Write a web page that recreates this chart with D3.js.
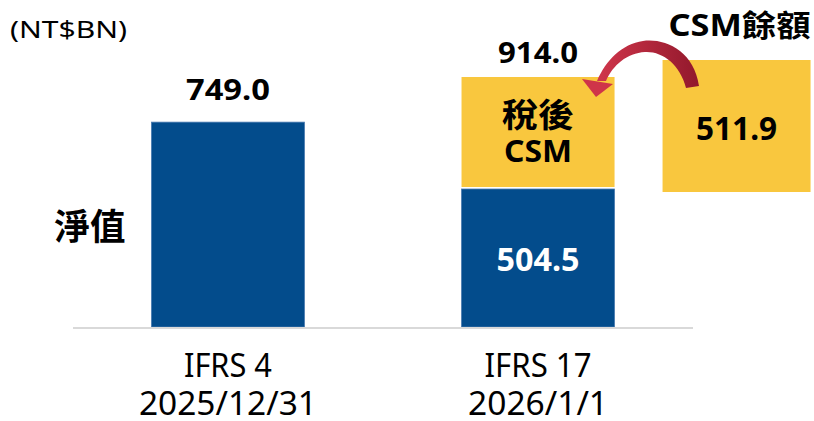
<!DOCTYPE html>
<html>
<head>
<meta charset="utf-8">
<script src="https://cdn.jsdelivr.net/npm/d3@7"></script>
<style>
  body { margin: 0; background: #fff; }
  text { font-family: "Noto Sans", "Noto Sans CJK TC", sans-serif; }
</style>
</head>
<body>
<svg id="chart" width="814" height="421"></svg>
<script>
// categories and values (NT$BN)
const categories = ["IFRS 4", "IFRS 17"];
const dates = ["2025/12/31", "2026/1/1"];
const netValue = [749.0, 504.5];
const csmAfterTax = [0, 409.5];
const totals = [749.0, 914.0];
const csmBalance = 511.9;

const BLUE = "#034c8c";
const YELLOW = "#f9c73e";

let svg = d3.select("#chart");

let x = d3.scaleBand().domain(categories).range([73, 693])
    .paddingInner(0.5065).paddingOuter(0.253);
let y = d3.scaleLinear().domain([0, 914]).range([327, 77]);

let bw = x.bandwidth();
let cx = (c) => x(c) + bw / 2;

// helper for text with fitted width
let label = (txt, px, py, size, len, opts = {}) => {
    let t = svg.append("text")
        .attr("x", px).attr("y", py)
        .attr("font-size", size)
        .attr("font-weight", opts.bold ? 700 : 400)
        .attr("fill", opts.fill || "#000")
        .attr("text-anchor", opts.anchor || "middle")
        .text(txt);
    if (len) t.attr("textLength", len).attr("lengthAdjust", "spacingAndGlyphs");
    if (opts.cjk) t.style("font-family", "'Noto Sans CJK TC', sans-serif");
    return t;
};

// blue (net value) bars
svg.selectAll("rect.net")
    .data(categories)
    .enter()
    .append("rect")
    .attr("class", "net")
    .attr("x", (d) => x(d))
    .attr("y", (d, i) => y(netValue[i]))
    .attr("width", bw)
    .attr("height", (d, i) => y(0) - y(netValue[i]))
    .attr("fill", BLUE)
    .attr("stroke", "#4a7bb0")
    .attr("stroke-width", 0.8);

// yellow CSM stacked segment
svg.selectAll("rect.csm")
    .data(categories.filter((d, i) => csmAfterTax[i] > 0))
    .enter()
    .append("rect")
    .attr("class", "csm")
    .attr("x", (d) => x(d))
    .attr("y", (d) => y(totals[categories.indexOf(d)]))
    .attr("width", bw)
    .attr("height", (d) => {
        let i = categories.indexOf(d);
        return y(netValue[i]) - y(totals[i]) - 2;
    })
    .attr("fill", YELLOW);

// baseline
svg.append("line")
    .attr("x1", 73).attr("x2", 693)
    .attr("y1", y(0) + 1).attr("y2", y(0) + 1)
    .attr("stroke", "#d9d9d9").attr("stroke-width", 2);

// side CSM balance box
let boxX = x("IFRS 17") + bw + 48;
svg.append("rect")
    .attr("x", boxX).attr("y", 60)
    .attr("width", 148).attr("height", 132)
    .attr("fill", YELLOW);

// curved arrow
let defs = svg.append("defs");
let grad = defs.append("linearGradient").attr("id", "arrowGrad")
    .attr("x1", "0%").attr("x2", "100%").attr("y1", "0%").attr("y2", "0%");
grad.append("stop").attr("offset", "0%").attr("stop-color", "#d0364b");
grad.append("stop").attr("offset", "100%").attr("stop-color", "#92182c");

let arrow = svg.append("g").attr("fill", "url(#arrowGrad)");
arrow.append("path")
    .attr("d", "M699,86 C694,50 664,38 643,41 C622,44 606,60 597,81 L606,81 C613,65 627,53 645,52 C662,51 680,64 686,88 Z");
arrow.append("path")
    .attr("d", "M582,79 L613,84 L596,97 Z")
    .attr("fill", "#cf3449");

// title / unit
label("(NT$BN)", 10, 38, 24, 117, {anchor: "start"});

// totals above bars
label("749.0", cx("IFRS 4"), 100, 29, 84, {bold: true});
label("914.0", cx("IFRS 17"), 63, 29, 80, {bold: true});

// inner labels
label("稅後", cx("IFRS 17"), 127, 33, 72, {bold: true, cjk: true});
label("CSM", cx("IFRS 17"), 162, 31, 68, {bold: true});
label(d3.format(".1f")(netValue[1]), cx("IFRS 17"), 271, 33, 83, {bold: true, fill: "#fff"});

// side box labels
label("CSM餘額", boxX + 77, 36, 30, 142, {bold: true});
label(d3.format(".1f")(csmBalance), boxX + 74, 140, 32, 81, {bold: true});

// left series label
label("淨值", 90, 240, 36, 71, {bold: true, cjk: true});

// category labels
let catLen = [88, 107];
let dateLen = [178, 140];
categories.forEach((c, i) => {
    label(c, cx(c), 377, 33, catLen[i]);
    label(dates[i], cx(c), 415, 33, dateLen[i]);
});
</script>
</body>
</html>
